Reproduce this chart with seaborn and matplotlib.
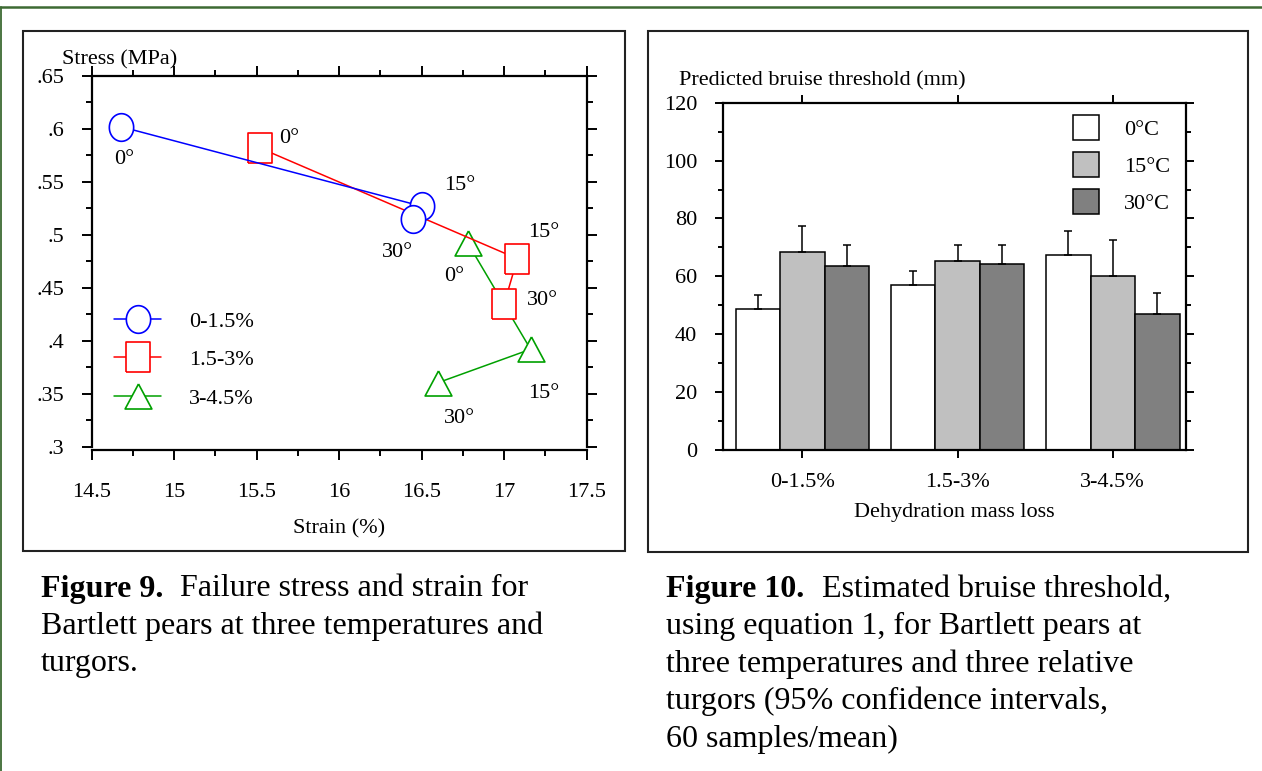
import numpy as np
import pandas as pd
import matplotlib
matplotlib.use("Agg")
import matplotlib.pyplot as plt
import seaborn as sns
from matplotlib.ticker import MultipleLocator, FuncFormatter, NullLocator
from matplotlib.patches import Rectangle
from matplotlib.lines import Line2D
from matplotlib.markers import MarkerStyle

# ---------------- data: Figure 9 (failure stress vs strain) ----------------
groups9 = ["0-1.5%", "1.5-3%", "3-4.5%"]
temps9 = ["0°", "15°", "30°"]
strain_0_15 = [14.68, 16.50, 16.45]
stress_0_15 = [0.602, 0.527, 0.515]
strain_15_3 = [15.52, 17.08, 17.00]
stress_15_3 = [0.582, 0.4775, 0.435]
strain_3_45 = [16.78, 17.16, 16.60]
stress_3_45 = [0.492, 0.392, 0.3605]

# ---------------- data: Figure 10 (bruise threshold) ----------------
categories10 = ["0-1.5%", "1.5-3%", "3-4.5%"]
temps10 = ["0°C", "15°C", "30°C"]
thr_0C = [48.6, 57.0, 67.5]
thr_15C = [68.5, 65.3, 60.2]
thr_30C = [63.6, 64.3, 47.0]
ci_0C = [5.1, 5.0, 8.2]
ci_15C = [8.9, 5.5, 12.2]
ci_30C = [7.2, 6.5, 7.4]

# ---------------- style ----------------
sns.set_theme(style="ticks")
plt.rcParams["font.family"] = ["Liberation Serif", "DejaVu Serif"]
plt.rcParams["font.size"] = 16
for k in ["text.color", "axes.labelcolor", "xtick.color", "ytick.color", "axes.edgecolor"]:
    plt.rcParams[k] = "black"

W, H = 1262, 771
fig = plt.figure(figsize=(W / 100, H / 100), dpi=100)
fig.patch.set_facecolor("white")


def fx(px):
    return px / W


def fy(py):
    return 1 - py / H


def axes_px(x0, y0, x1, y1):
    return [fx(x0), fy(y1), fx(x1) - fx(x0), fy(y0) - fy(y1)]


# ======================= Figure 9 =======================
ax1 = fig.add_axes(axes_px(91.7, 76, 586.7, 446.7))

df9 = pd.DataFrame({
    "strain": strain_0_15 + strain_15_3 + strain_3_45,
    "stress": stress_0_15 + stress_15_3 + stress_3_45,
    "group": np.repeat(groups9, 3),
    "temp": temps9 * 3,
})
colors9 = {"0-1.5%": "#0000ff", "1.5-3%": "#ff0000", "3-4.5%": "#00a000"}

t = np.linspace(0, 2 * np.pi, 80)
ell = MarkerStyle(list(zip(0.88 * np.cos(t), np.sin(t))))
sq = MarkerStyle([(-0.83, -1), (0.83, -1), (0.83, 1), (-0.83, 1), (-0.83, -1)], joinstyle="miter")
tri = MarkerStyle([(0, 0.933), (-1, -0.933), (1, -0.933), (0, 0.933)], joinstyle="miter")
marker_map = {"0-1.5%": ell, "1.5-3%": sq, "3-4.5%": tri}
msize = {"0-1.5%": 19.9, "1.5-3%": 20.9, "3-4.5%": 19.3}

draw_order = groups9[::-1]
sns.lineplot(data=df9, x="strain", y="stress", hue="group", style="group",
             hue_order=draw_order, style_order=draw_order, palette=colors9,
             markers=marker_map, dashes=False, sort=False, estimator=None,
             linewidth=1.1, mfc="white", mew=1.2, legend=False, ax=ax1)
for line, g in zip(ax1.lines, draw_order):
    line.set_markeredgecolor(colors9[g])
    line.set_markerfacecolor("white")
    line.set_markersize(msize[g])

# temperature labels (pixel offsets right/down from the point)
label_offsets = {
    ("0-1.5%", "0°"): (2.4, 33), ("0-1.5%", "15°"): (38, -20.6), ("0-1.5%", "30°"): (-15.5, 33.3),
    ("1.5-3%", "0°"): (29.6, -9.7), ("1.5-3%", "15°"): (26, -26.6), ("1.5-3%", "30°"): (38, -3.6),
    ("3-4.5%", "0°"): (-13.4, 33.1), ("3-4.5%", "15°"): (13, 43.8), ("3-4.5%", "30°"): (21.4, 35.5),
}
for _, r in df9.iterrows():
    dx, dy = label_offsets[(r["group"], r["temp"])]
    ax1.annotate(r["temp"], xy=(r["strain"], r["stress"]), xytext=(dx, -dy),
                 textcoords="offset pixels", ha="center", va="center", fontsize=16)

ax1.set_xlim(14.5, 17.5)
ax1.set_ylim(0.3, 0.65)
ax1.xaxis.set_major_locator(MultipleLocator(0.5))
ax1.xaxis.set_minor_locator(MultipleLocator(0.25))
ax1.yaxis.set_major_locator(MultipleLocator(0.05))
ax1.yaxis.set_minor_locator(MultipleLocator(0.025))
ax1.xaxis.set_major_formatter(FuncFormatter(lambda v, p: "%g" % round(v, 2)))
ax1.yaxis.set_major_formatter(FuncFormatter(
    lambda v, p: ("%.3f" % v).rstrip("0").rstrip(".").lstrip("0")))
ax1.tick_params(which="both", direction="out", top=True, right=True, width=1.4,
                labelsize=16, color="black")
ax1.tick_params(which="major", length=7.2)
ax1.tick_params(which="minor", length=4.2)
ax1.tick_params(axis="x", which="major", pad=16.4)
ax1.tick_params(axis="y", which="major", pad=12.7)
for s in ax1.spines.values():
    s.set_visible(True)
    s.set_linewidth(1.6)
    s.set_color("black")
ax1.spines["bottom"].set_position(("outward", 2.4))

ax1.set_xlabel("Strain (%)", fontsize=16, labelpad=12.5)
ax1.set_ylabel("Stress (MPa)", fontsize=16, rotation=0, ha="left", va="baseline")
ax1.yaxis.set_label_coords((62 - 91.7) / 495, (446.7 - 64) / 370.7)

leg1 = ax1.legend(ax1.lines[::-1], groups9, loc="upper left",
                  bbox_to_anchor=(0.045, 0.366), frameon=False, borderpad=0,
                  borderaxespad=0, handlelength=2.12, handletextpad=1.24,
                  labelspacing=0.81, fontsize=16, numpoints=1)

# ======================= Figure 10 =======================
ax2 = fig.add_axes(axes_px(723.3, 102.7, 1186, 450))
df10 = pd.DataFrame({
    "loss": categories10 * 3,
    "temp": np.repeat(temps10, 3),
    "thr": thr_0C + thr_15C + thr_30C,
})
pal10 = {"0°C": "#ffffff", "15°C": "#c0c0c0", "30°C": "#808080"}
sns.barplot(data=df10, x="loss", y="thr", hue="temp", order=categories10,
            hue_order=temps10, palette=pal10, saturation=1, width=0.86,
            errorbar=None, edgecolor="black", linewidth=1.1, legend=False, ax=ax2)
for cont, ci in zip(ax2.containers, [ci_0C, ci_15C, ci_30C]):
    xs = [p.get_x() + p.get_width() / 2 for p in cont.patches]
    ys = [p.get_height() for p in cont.patches]
    ax2.errorbar(xs, ys, yerr=[np.zeros(len(ci)), ci], fmt="none", ecolor="black",
                 elinewidth=1.1, capsize=3.2, capthick=1.1)

ax2.set_xlim(-0.509, 2.4715)
ax2.set_ylim(0, 120)
ax2.yaxis.set_major_locator(MultipleLocator(20))
ax2.yaxis.set_minor_locator(MultipleLocator(10))
ax2.xaxis.set_minor_locator(NullLocator())
ax2.tick_params(which="both", direction="out", top=True, right=True, width=1.4,
                labelsize=16, color="black")
ax2.tick_params(which="major", length=5.8)
ax2.tick_params(which="minor", length=3.6)
ax2.tick_params(axis="x", which="major", pad=10.6)
ax2.tick_params(axis="y", which="major", pad=13)
for s in ax2.spines.values():
    s.set_visible(True)
    s.set_linewidth(1.6)
    s.set_color("black")
ax2.set_xlabel("Dehydration mass loss", fontsize=16, labelpad=8.2)
ax2.set_ylabel("Predicted bruise threshold (mm)", fontsize=16, rotation=0,
               ha="left", va="baseline")
ax2.yaxis.set_label_coords((679 - 723.3) / 462.7, (450 - 85) / 347.3)

leg2 = ax2.legend(ax2.containers, temps10, loc="upper left",
                  bbox_to_anchor=(0.7564, 0.9638), frameon=False, borderpad=0,
                  borderaxespad=0, handlelength=1.16, handleheight=1.32,
                  handletextpad=1.14, labelspacing=0.55, fontsize=16)

# ======================= frames & captions =======================
for (x0, y0, x1, y1) in [(23, 31, 625, 551), (648, 31, 1248, 552)]:
    fig.add_artist(Rectangle((fx(x0), fy(y1)), fx(x1) - fx(x0), fy(y0) - fy(y1),
                             transform=fig.transFigure, fill=False, lw=1.5,
                             ec="#222222"))
green = "#3d6a33"
fig.add_artist(Line2D([0, 1], [fy(6.7), fy(6.7)], transform=fig.transFigure,
                      color=green, lw=1.8))
fig.add_artist(Line2D([fx(0.8), fx(0.8)], [0, fy(6.7)], transform=fig.transFigure,
                      color=green, lw=1.3))

cap_fs = 23
captions = [
    (40.7, "Figure 9.", ["Failure stress and strain for",
                         "Bartlett pears at three temperatures and",
                         "turgors."]),
    (666.5, "Figure 10.", ["Estimated bruise threshold,",
                           "using equation 1, for Bartlett pears at",
                           "three temperatures and three relative",
                           "turgors (95% confidence intervals,",
                           "60 samples/mean)"]),
]
line_y = [589, 626.5, 664, 701.5, 739]
fig.canvas.draw()
renderer = fig.canvas.get_renderer()
for x0, bold, lines in captions:
    b = fig.text(fx(x0), fy(line_y[0]), bold, fontsize=cap_fs, fontweight="bold",
                 ha="left", va="center")
    bb = b.get_window_extent(renderer=renderer)
    fig.text(fx(bb.x1 + 17), fy(line_y[0]), lines[0], fontsize=cap_fs,
             ha="left", va="center")
    for i, ln in enumerate(lines[1:], start=1):
        fig.text(fx(x0), fy(line_y[i]), ln, fontsize=cap_fs, ha="left", va="center")

fig.savefig("out.png", dpi=100)
